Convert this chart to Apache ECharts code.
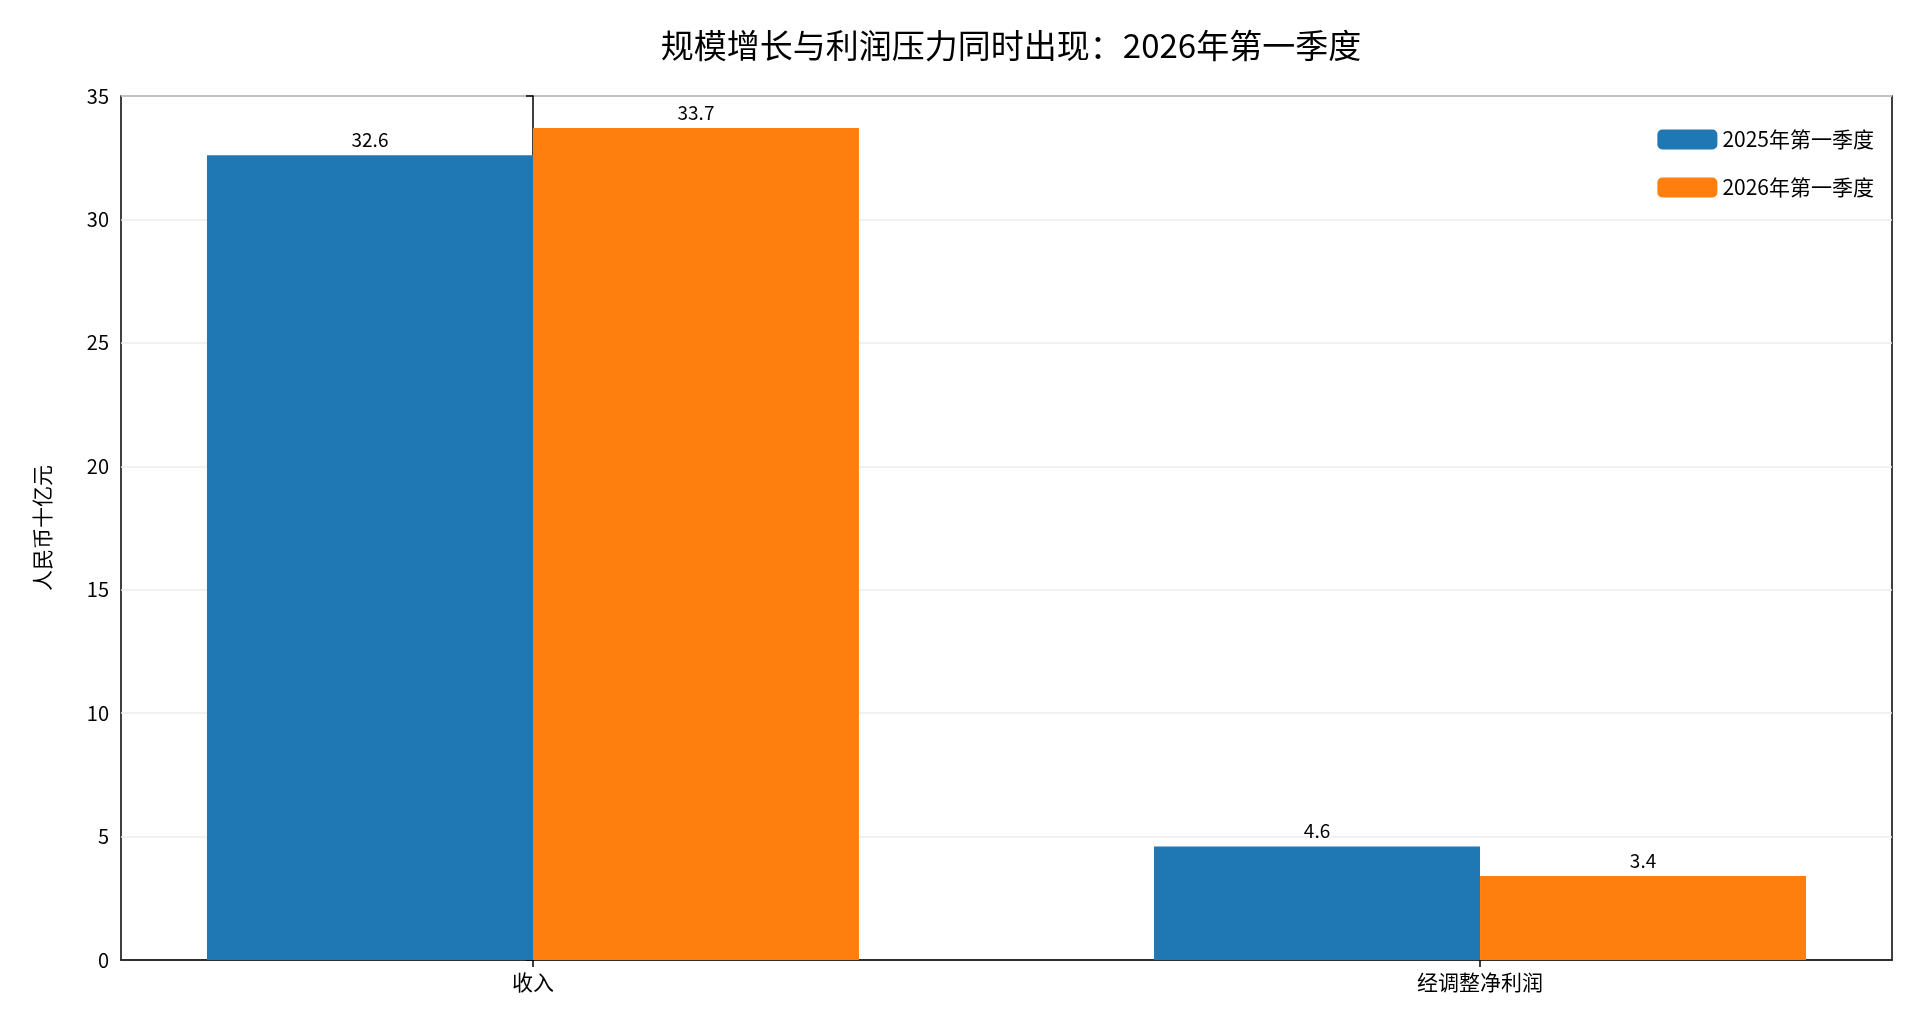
<!DOCTYPE html>
<html><head><meta charset="utf-8">
<script src="https://cdn.jsdelivr.net/npm/echarts@6/dist/echarts.min.js"></script>
<style>html,body{margin:0;padding:0;background:#fff}#c{width:1914px;height:1034px}</style>
</head><body><div id="c"></div>
<script>
const categories = ['收入', '经调整净利润'];
const seriesNames = ['2025年第一季度', '2026年第一季度'];
const values2025 = [32.6, 4.6];
const values2026 = [33.7, 3.4];
const yTicks = [0, 5, 10, 15, 20, 25, 30, 35];

const F = 'Noto Sans CJK SC';
const chart = echarts.init(document.getElementById('c'));
const mk = (vals) => vals.map((v, i) => [i, v]);
const lbl = {show: true, position: 'top', distance: 6, color: '#000', fontSize: 19, fontFamily: F, formatter: p => p.value[1].toFixed(1)};
chart.setOption({
  animation: false,
  textStyle: {fontFamily: F},
  title: {text: '规模增长与利润压力同时出现：2026年第一季度', left: 1006, textAlign: 'center', top: 24,
    textStyle: {fontSize: 33, fontWeight: 'normal', color: '#000', fontFamily: F}},
  legend: {right: 35, top: 124, orient: 'vertical', itemWidth: 60, itemHeight: 20, itemGap: 27,
    textStyle: {fontSize: 21, color: '#000', fontFamily: F}, data: seriesNames},
  grid: {left: 121, right: 22, top: 96, bottom: 74, show: true, borderColor: '#000', borderWidth: 1.5, backgroundColor: 'transparent'},
  xAxis: {type: 'value', min: -0.435, max: 1.435,
    axisLine: {show: true, lineStyle: {color: '#000', width: 1.5}},
    splitLine: {show: false},
    axisTick: {show: true, customValues: [0, 1], length: 7, lineStyle: {color: '#000', width: 1.5}},
    axisLabel: {customValues: [0, 1], formatter: v => categories[Math.round(v)], fontSize: 21, color: '#000', margin: 12, fontFamily: F}},
  yAxis: {type: 'value', min: 0, max: 35, interval: 5, name: '人民币十亿元', nameLocation: 'middle', nameGap: 68,
    nameTextStyle: {fontSize: 21, color: '#000', fontFamily: F},
    axisLine: {show: true, lineStyle: {color: '#000', width: 1.5}},
    axisTick: {show: true, length: 7, lineStyle: {color: '#000', width: 1.5}},
    axisLabel: {fontSize: 20, color: '#000', margin: 12, fontFamily: F, customValues: yTicks},
    splitLine: {show: true, lineStyle: {color: '#ececec', width: 1.5}}},
  series: [
    {name: seriesNames[0], type: 'bar', data: mk(values2025), barWidth: 326, barGap: '0%', itemStyle: {color: '#1f77b4'}, label: lbl},
    {name: seriesNames[1], type: 'bar', data: mk(values2026), barWidth: 326, barGap: '0%', itemStyle: {color: '#ff7f0e'}, label: lbl}
  ]
});
</script></body></html>
